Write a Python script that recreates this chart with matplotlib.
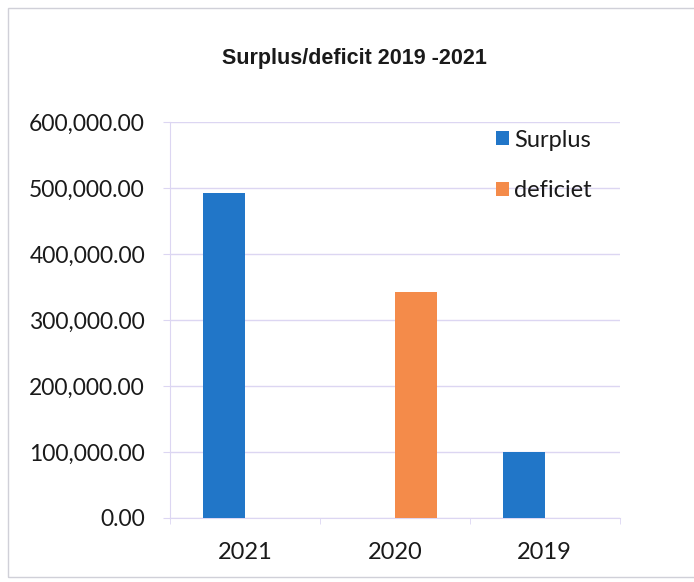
import numpy as np
import matplotlib.pyplot as plt
from matplotlib.patches import Rectangle
from matplotlib.ticker import FuncFormatter

# Yearly result split into surplus and deficit
years = ['2021', '2020', '2019']
surplus = [492000, 0, 100000]
deficit = [0, 343000, 0]
series_names = ['Surplus', 'deficiet']

blue = '#2176c8'
orange = '#f48b4a'
grid_col = '#dcd6f2'

plt.rcParams['font.family'] = ['Lato', 'DejaVu Sans']

fig = plt.figure(figsize=(6.94, 5.82), dpi=100)
ax = fig.add_axes([0.245, 0.110, 0.648, 0.680])

x = np.arange(len(years))
w = 0.28
ax.bar(x - w / 2, surplus, width=w, color=blue, label=series_names[0], zorder=3)
ax.bar(x + w / 2, deficit, width=w, color=orange, label=series_names[1], zorder=3)

ax.set_xlim(-0.5, len(years) - 0.5)
ax.set_ylim(0, 600000)
ax.set_yticks(np.arange(0, 600001, 100000))
ax.yaxis.set_major_formatter(FuncFormatter(lambda v, p: f'{v:,.2f}'))
ax.set_xticks(x)
ax.set_xticklabels(years)
ax.set_xticks(np.arange(-0.5, len(years)), minor=True)

ax.grid(axis='y', color=grid_col, linewidth=1.0, zorder=0)
for side in ['top', 'right']:
    ax.spines[side].set_visible(False)
ax.spines['left'].set_color(grid_col)
ax.spines['bottom'].set_color(grid_col)

ax.tick_params(axis='y', length=5, color=grid_col, pad=13, labelsize=16.5, labelcolor='#1a1a1a')
ax.tick_params(axis='x', which='major', length=0, pad=17, labelsize=17, labelcolor='#1a1a1a')
ax.tick_params(axis='x', which='minor', length=4, color=grid_col)

leg = ax.legend(loc='upper right', bbox_to_anchor=(0.985, 1.035), frameon=False, fontsize=17,
                handlelength=0.55, handleheight=0.55, handletextpad=0.2, labelspacing=1.25,
                labelcolor='#1a1a1a')

fig.text(0.51, 0.90, 'Surplus/deficit 2019 -2021', ha='center', va='center',
         fontsize=15.5, fontweight='bold', color='#1a1a1a',
         family=['Liberation Sans Narrow', 'Liberation Sans', 'DejaVu Sans'])

# thin frame around the chart area
fig.patches.append(Rectangle((0.012, 0.008), 0.99, 0.978, transform=fig.transFigure,
                             fill=False, edgecolor='#d0d0d8', linewidth=1.0))

fig.savefig('out.png', dpi=100)
